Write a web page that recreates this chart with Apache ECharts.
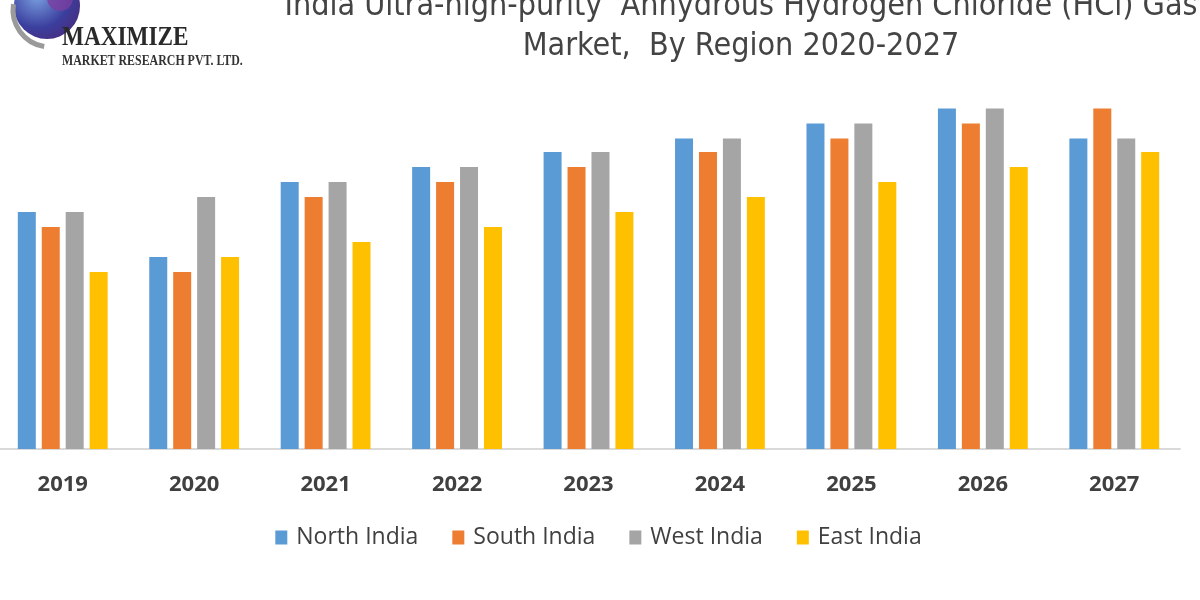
<!DOCTYPE html>
<html>
<head>
<meta charset="utf-8">
<script src="https://cdn.jsdelivr.net/npm/echarts@6/dist/echarts.min.js"></script>
<style>html,body{margin:0;padding:0;background:#fff;overflow:hidden;}#c{width:1203px;height:600px;margin-left:-3px;}</style>
</head>
<body>
<div id="c"></div>
<script>
const categories = ['2019','2020','2021','2022','2023','2024','2025','2026','2027'];
const seriesNames = ['North India','South India','West India','East India'];
const northIndia = [7.9, 6.4, 8.9, 9.4, 9.9, 10.35, 10.85, 11.35, 10.35];
const southIndia = [7.4, 5.9, 8.4, 8.9, 9.4, 9.9, 10.35, 10.85, 11.35];
const westIndia  = [7.9, 8.4, 8.9, 9.4, 9.9, 10.35, 10.85, 11.35, 10.35];
const eastIndia  = [5.9, 6.4, 6.9, 7.4, 7.9, 8.4, 8.9, 9.4, 9.9];
const colors = ['#5b9bd5','#ed7d31','#a5a5a5','#ffc000'];
const titleLines = ['India Ultra-high-purity  Anhydrous Hydrogen Chloride (HCl) Gas', 'Market,  By Region 2020-2027'];

const chart = echarts.init(document.getElementById('c'), null, {renderer:'canvas'});
const allData = [northIndia, southIndia, westIndia, eastIndia];
chart.setOption({
  animation:false,
  backgroundColor:'#ffffff',
  title:{
    text: titleLines.join('\n'),
    left: 739, top: -18, textAlign:'center',
    textStyle:{fontFamily:'Liberation Sans Narrow, DejaVu Sans Condensed, Open Sans', fontSize:32, fontWeight:'normal', color:'#444444', lineHeight:40}
  },
  graphic:[
    {type:'circle', shape:{cx:50, cy:6, r:33}, style:{fill:new echarts.graphic.RadialGradient(0.35,0.35,0.8,[{offset:0,color:'#7aa0e0'},{offset:0.6,color:'#3b3f9e'},{offset:1,color:'#4a2a7a'}])}},
    {type:'circle', shape:{cx:63, cy:-2, r:13}, style:{fill:'#7a3fa0', opacity:0.8}},
    {type:'arc', shape:{cx:53, cy:10, r:37, startAngle:Math.PI*0.55, endAngle:Math.PI*1.05}, style:{stroke:'#9a9a9a', lineWidth:5, fill:null}},
    {type:'text', left:65, top:24, style:{text:'MAXIMIZE', font:'bold 28px "Liberation Serif", serif', fill:'#2a2a2a'}, scaleX:0.83},
    {type:'text', left:65, top:54, style:{text:'MARKET RESEARCH PVT. LTD.', font:'bold 14px "Liberation Serif", serif', fill:'#333333'}, scaleX:0.85}
  ],
  legend:{
    data: seriesNames,
    left: 'center', top: 521,
    icon:'rect', itemWidth:12, itemHeight:14, itemGap:34,
    textStyle:{fontFamily:'Open Sans', fontSize:23, color:'#404040', padding:[0,0,0,4]}
  },
  grid:{left:0, right:20, top:89, bottom:151, containLabel:false},
  xAxis:{
    type:'category', data: categories,
    axisLine:{lineStyle:{color:'#d9d9d9', width:2}},
    axisTick:{show:false},
    axisLabel:{margin:25, fontFamily:'Open Sans', fontSize:22, fontWeight:'bold', color:'#404040'}
  },
  yAxis:{type:'value', min:0, max:12, show:false, splitLine:{show:false}},
  series: seriesNames.map((n,i)=>({
    name:n, type:'bar', data: allData[i], barWidth:18, barGap:'33%',
    itemStyle:{color:colors[i]}
  })),
  color: colors
});
</script>
</body>
</html>
